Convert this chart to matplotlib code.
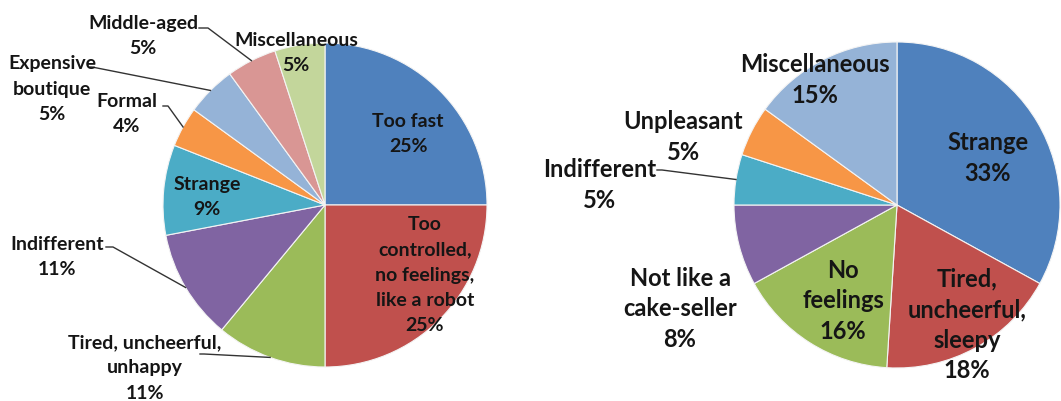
import numpy as np
import matplotlib
matplotlib.use('Agg')
import matplotlib.pyplot as plt

# left pie: impressions of the cake-seller
left_labels = ['Too fast', 'Too\ncontrolled,\nno feelings,\nlike a robot', 'Tired, uncheerful,\nunhappy',
               'Indifferent', 'Strange', 'Formal', 'Expensive\nboutique', 'Middle-aged', 'Miscellaneous']
left_values = [25, 25, 11, 11, 9, 4, 5, 5, 5]
left_colors = ['#4F81BD', '#C0504D', '#9BBB59', '#8064A2', '#4BACC6', '#F79646', '#95B3D7', '#D99694', '#C3D69B']

# right pie
right_labels = ['Strange', 'Tired,\nuncheerful,\nsleepy', 'No\nfeelings', 'Not like a\ncake-seller',
                'Indifferent', 'Unpleasant', 'Miscellaneous']
right_values = [33, 18, 16, 8, 5, 5, 15]
right_colors = ['#4F81BD', '#C0504D', '#9BBB59', '#8064A2', '#4BACC6', '#F79646', '#95B3D7']

W, H = 1061, 401
fig = plt.figure(figsize=(W / 100, H / 100), dpi=100)
ax = fig.add_axes([0, 0, 1, 1])

font = dict(family='Lato', weight='bold', color='#151515', ha='center', va='center')


def draw_pie(values, colors, center, radius):
    # y axis is flipped, so counterclock=True draws clockwise on screen
    wedges, _ = ax.pie(values, colors=colors, startangle=-90, counterclock=True,
                       center=center, radius=radius,
                       wedgeprops=dict(edgecolor='#f4f4f4', linewidth=0.8),
                       frame=True)
    return wedges


def edge_point(w, center, radius):
    a = np.deg2rad((w.theta1 + w.theta2) / 2)
    return center[0] + radius * np.cos(a), center[1] + radius * np.sin(a)


def leader(start, bend, w, center, radius):
    ex, ey = edge_point(w, center, radius)
    ax.plot([start[0], bend[0], ex], [start[1], bend[1], ey], color='#333333', lw=1.0)


# left pie
c1, r1 = (325, 205), 162
w1 = draw_pie(left_values, left_colors, c1, r1)
left_pos = [(408, 134), (425, 275), (145, 368), (57, 257), (207, 197),
            (127, 114), (52, 89), (143, 36), (296, 53)]
for lab, v, p in zip(left_labels, left_values, left_pos):
    ax.text(p[0], p[1], f'{lab}\n{v}%', fontsize=14, linespacing=1.58, **font)
leader((199, 28), (208, 28), w1[7], c1, r1)
leader((90, 67), (92, 67), w1[6], c1, r1)
leader((163, 106), (168, 106), w1[5], c1, r1)
leader((106, 247), (113, 247), w1[3], c1, r1)
leader((200, 354), (204, 354), w1[2], c1, r1)

# right pie
c2, r2 = (897, 205), 163
w2 = draw_pie(right_values, right_colors, c2, r2)
right_pos = [(988, 158), (967, 325), (843, 301), (680, 309), (600, 185), (683, 137), (815, 80)]
for lab, v, p in zip(right_labels, right_values, right_pos):
    ax.text(p[0], p[1], f'{lab}\n{v}%', fontsize=17, linespacing=1.4, **font)
leader((657, 170), (662, 170), w2[4], c2, r2)

ax.set_xlim(0, W)
ax.set_ylim(H, 0)
ax.set_aspect('equal')
ax.axis('off')
fig.savefig('out.png', dpi=100)
